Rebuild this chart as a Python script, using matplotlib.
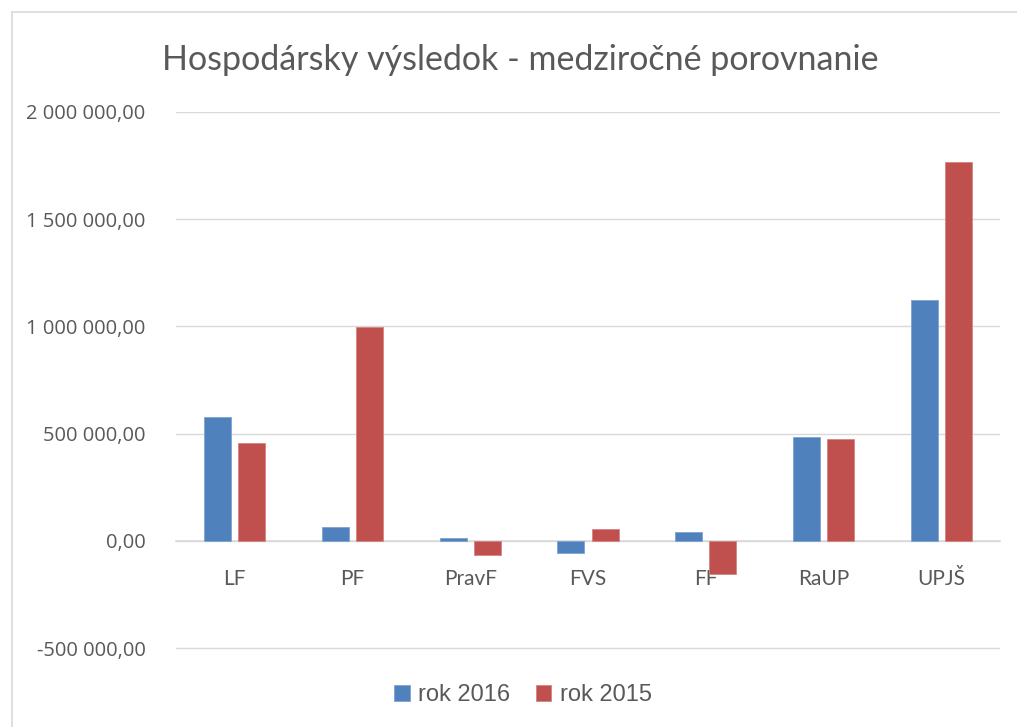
import matplotlib
matplotlib.use("Agg")
import matplotlib.pyplot as plt
import matplotlib.ticker as ticker
from matplotlib.lines import Line2D
import numpy as np

# ── Data ────────────────────────────────────────────────
categories = ["LF", "PF", "PravF", "FVS", "FF", "RaUP", "UPJŠ"]
rok_2016 = [578000, 64000, 11000, -56000, 41000, 484000, 1122000]
rok_2015 = [458000, 997000, -67000, 53000, -156000, 475000, 1768000]
series_labels = ["rok 2016", "rok 2015"]
title = "Hospodársky výsledok - medziročné porovnanie"

BLUE = "#4F81BD"
RED = "#C0504D"
GRID = "#D9D9D9"
TEXT = "#595959"

plt.rcParams["font.family"] = ["Open Sans", "DejaVu Sans"]

W, H = 1017, 727
fig = plt.figure(figsize=(W / 100, H / 100), dpi=100)

# plot area in pixel coords
left, right, top, bottom = 176, 1000, 112, 650
ax = fig.add_axes([left / W, 1 - bottom / H, (right - left) / W, (bottom - top) / H])

x = np.arange(len(categories))
width = 0.23
off = 0.145
ax.bar(x - off, rok_2016, width, color=BLUE, edgecolor="#7FA3D1", linewidth=0.6,
       label=series_labels[0], zorder=3)
ax.bar(x + off, rok_2015, width, color=RED, edgecolor="#D58482", linewidth=0.6,
       label=series_labels[1], zorder=3)

ax.set_xlim(-0.5, len(categories) - 0.5)
ax.set_ylim(-509000, 2000000)
ax.yaxis.set_major_locator(ticker.FixedLocator(np.arange(-500000, 2000001, 500000)))
ax.yaxis.set_major_formatter(ticker.FuncFormatter(
    lambda v, _: f"{v:,.2f}".replace(",", " ").replace(".", ",")))
ax.grid(axis="y", color=GRID, linewidth=1.0, zorder=0)

for s in ["top", "right", "left"]:
    ax.spines[s].set_visible(False)
ax.spines["bottom"].set_position(("data", 0))
ax.spines["bottom"].set_color(GRID)
ax.spines["bottom"].set_linewidth(1.2)
ax.spines["bottom"].set_zorder(2)

ax.set_xticks(x)
ax.set_xticklabels(categories, fontsize=15, color=TEXT, family=["Lato", "DejaVu Sans"])
ax.tick_params(axis="x", length=0, pad=20)
ax.tick_params(axis="y", length=0, pad=22, labelsize=14.5, labelcolor=TEXT)

fig.text(520 / W, 1 - 60 / H, title, ha="center", va="center", fontsize=24.5,
         color=TEXT, family=["Lato", "DejaVu Sans"])

fig.legend(loc="center", bbox_to_anchor=(523 / W, 1 - 695 / H), ncol=2, frameon=False,
           handlelength=0.65, handleheight=0.65, handletextpad=0.35,
           columnspacing=1.1, prop={"family": ["Liberation Sans"], "size": 17},
           labelcolor=TEXT)

# chart border
fig.add_artist(Line2D([12 / W, 12 / W], [0, 1 - 12 / H], color="#D9D9D9", lw=1.2))
fig.add_artist(Line2D([12 / W, 1], [1 - 12 / H, 1 - 12 / H], color="#D9D9D9", lw=1.2))

fig.savefig("out.png", dpi=100)
